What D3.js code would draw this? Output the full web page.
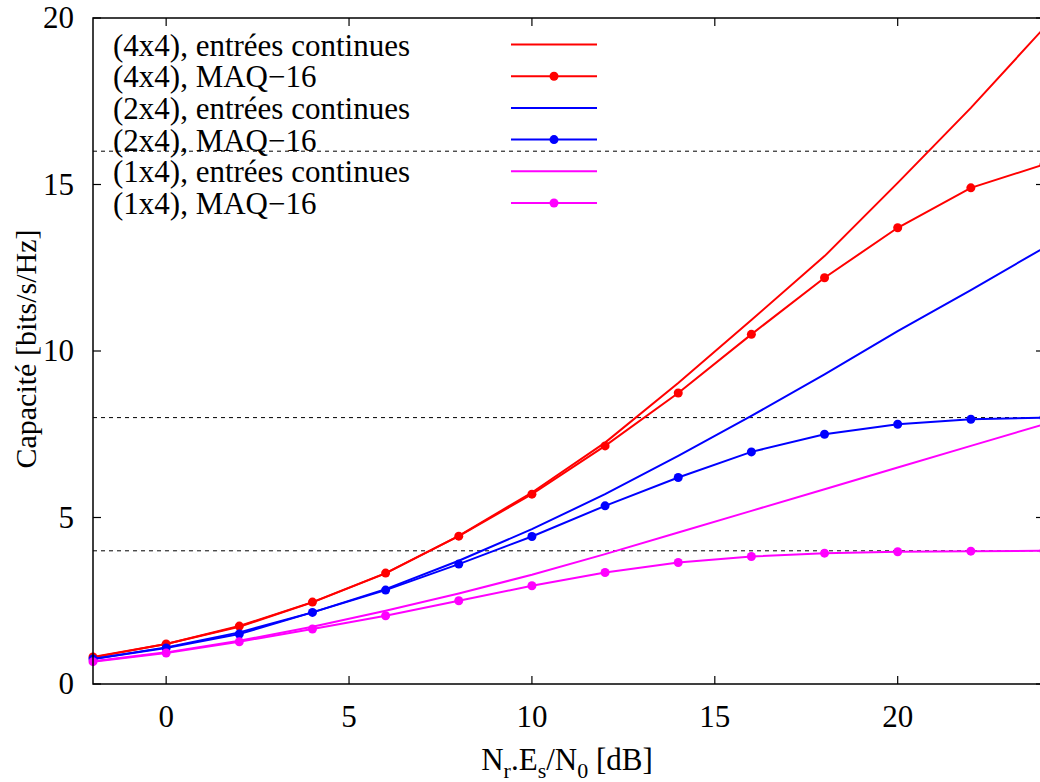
<!DOCTYPE html>
<html><head><meta charset="utf-8">
<script src="https://cdn.jsdelivr.net/npm/d3@7"></script>
<style>body{margin:0;background:#fff}svg{display:block}</style>
</head><body>
<svg id="c" width="1040" height="782" font-family="Liberation Serif, DejaVu Serif, serif"></svg>
<script>
const snr = [-2,0,2,4,6,8,10,12,14,16,18,20,22,24];
const cap4x4Cont = [0.8,1.2,1.72,2.45,3.32,4.45,5.75,7.25,9.04,10.93,12.85,15.05,17.3,19.7];
const cap4x4Qam  = [0.81,1.2,1.74,2.46,3.33,4.44,5.7,7.15,8.74,10.5,12.2,13.7,14.9,15.6];
const cap2x4Cont = [0.75,1.1,1.55,2.15,2.85,3.7,4.65,5.7,6.85,8.05,9.3,10.6,11.83,13.1];
const cap2x4Qam  = [0.75,1.08,1.5,2.15,2.82,3.6,4.43,5.35,6.2,6.97,7.5,7.8,7.95,8.0];
const cap1x4Cont = [0.68,0.95,1.3,1.72,2.2,2.72,3.28,3.9,4.55,5.2,5.85,6.5,7.15,7.8];
const cap1x4Qam  = [0.67,0.93,1.27,1.65,2.05,2.5,2.95,3.35,3.65,3.83,3.93,3.97,3.99,4.0];
const limits = [16,8,4];
const xTicks = [0,5,10,15,20];
const yTicks = [0,5,10,15,20];
const series = [
  {name:"(4x4), entrées continues", vals:cap4x4Cont, color:"#ff0000", dots:false},
  {name:"(4x4), MAQ\u221216", vals:cap4x4Qam, color:"#ff0000", dots:true},
  {name:"(2x4), entrées continues", vals:cap2x4Cont, color:"#0000ff", dots:false},
  {name:"(2x4), MAQ\u221216", vals:cap2x4Qam, color:"#0000ff", dots:true},
  {name:"(1x4), entrées continues", vals:cap1x4Cont, color:"#ff00ff", dots:false},
  {name:"(1x4), MAQ\u221216", vals:cap1x4Qam, color:"#ff00ff", dots:true}
];

const svg = d3.select("#c");
const L=93, R=1044, T=18, B=684;
const x = d3.scaleLinear().domain([-2,24]).range([L,R]);
const y = d3.scaleLinear().domain([0,20]).range([B,T]);

svg.selectAll(".lim").data(limits).enter().append("line")
  .attr("x1",L).attr("x2",R).attr("y1",d=>y(d)).attr("y2",d=>y(d))
  .attr("stroke","#000").attr("stroke-width",1).attr("stroke-dasharray","4,4");

const line = d3.line().x((d,i)=>x(snr[i])).y(d=>y(d));
series.forEach(s=>{
  svg.append("path").attr("d",line(s.vals)).attr("fill","none")
    .attr("stroke",s.color).attr("stroke-width",2);
  if(s.dots){
    svg.selectAll(null).data(s.vals).enter().append("circle")
      .attr("cx",(d,i)=>x(snr[i])).attr("cy",d=>y(d)).attr("r",4.5).attr("fill",s.color);
  }
});

svg.append("rect").attr("x",L).attr("y",T).attr("width",R-L).attr("height",B-T)
  .attr("fill","none").attr("stroke","#000").attr("stroke-width",1.5);

const tl=8;
xTicks.forEach(t=>{
  svg.append("line").attr("x1",x(t)).attr("x2",x(t)).attr("y1",B).attr("y2",B-tl).attr("stroke","#000").attr("stroke-width",1.2);
  svg.append("line").attr("x1",x(t)).attr("x2",x(t)).attr("y1",T).attr("y2",T+tl).attr("stroke","#000").attr("stroke-width",1.2);
  svg.append("text").attr("x",x(t)).attr("y",727).attr("text-anchor","middle").attr("font-size",31).text(t);
});
yTicks.forEach(t=>{
  svg.append("line").attr("x1",L).attr("x2",L+tl).attr("y1",y(t)).attr("y2",y(t)).attr("stroke","#000").attr("stroke-width",1.2);
  svg.append("line").attr("x1",R).attr("x2",R-tl).attr("y1",y(t)).attr("y2",y(t)).attr("stroke","#000").attr("stroke-width",1.2);
  svg.append("text").attr("x",74).attr("y",y(t)+10).attr("text-anchor","end").attr("font-size",31).text(t);
});

svg.append("text").attr("transform","translate(36,349) rotate(-90)").attr("text-anchor","middle")
  .attr("font-size",30).text("Capacité [bits/s/Hz]");
const xl = svg.append("text").attr("x",567).attr("y",770).attr("text-anchor","middle").attr("font-size",31);
xl.append("tspan").text("N");
xl.append("tspan").attr("dy",8).attr("font-size",22).text("r");
xl.append("tspan").attr("dy",-8).text(".E");
xl.append("tspan").attr("dy",8).attr("font-size",22).text("s");
xl.append("tspan").attr("dy",-8).text("/N");
xl.append("tspan").attr("dy",8).attr("font-size",22).text("0");
xl.append("tspan").attr("dy",-8).text(" [dB]");

const ly0=44.5, ldy=31.7;
series.forEach((s,i)=>{
  const yy=ly0+i*ldy;
  svg.append("text").attr("x",113).attr("y",yy+11).attr("font-size",31).text(s.name);
  svg.append("line").attr("x1",511).attr("x2",597).attr("y1",yy).attr("y2",yy).attr("stroke",s.color).attr("stroke-width",2);
  if(s.dots) svg.append("circle").attr("cx",554).attr("cy",yy).attr("r",4.5).attr("fill",s.color);
});
</script>
</body></html>
